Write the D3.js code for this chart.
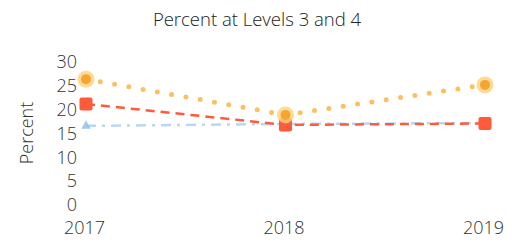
<!DOCTYPE html>
<html><head><meta charset="utf-8">
<script src="https://cdn.jsdelivr.net/npm/d3@7"></script>
<style>body{margin:0;background:#fff}svg{display:block}text{font-family:"Open Sans",sans-serif;font-weight:300;fill:#333}</style>
</head><body><svg id="c" width="520" height="245"></svg>
<script>
const years = [2017, 2018, 2019];
const yTicks = [0, 5, 10, 15, 20, 25, 30];
const orangeVals = [26.4, 18.9, 25.2];
const redVals = [21.2, 16.8, 17.1];
const blueVals = [16.6, 17.0, 17.2];

const svg = d3.select("#c");
const x = d3.scaleLinear().domain([2017, 2019]).range([86, 485]);
const y = d3.scaleLinear().domain([0, 30]).range([205, 62]);

svg.append("text").attr("x", 257).attr("y", 26).attr("text-anchor", "middle")
  .style("font-size", "18.5px").style("font-weight", 300).style("fill", "#222").text("Percent at Levels 3 and 4");

const yAxis = svg.append("g").attr("transform", "translate(80,0)")
  .call(d3.axisLeft(y).tickValues(yTicks).tickSize(0).tickPadding(3));
yAxis.select(".domain").remove();
yAxis.selectAll("text").style("font-size", "18px").style("fill", "#333").attr("font-family", null);

const xAxis = svg.append("g").attr("transform", "translate(-2,219)")
  .call(d3.axisBottom(x).tickValues(years).tickFormat(d3.format("d")).tickSize(0).tickPadding(2));
xAxis.select(".domain").remove();
xAxis.selectAll("text").style("font-size", "18px").style("fill", "#333").attr("font-family", null);

svg.append("text").attr("transform", "translate(33,133) rotate(-90)")
  .attr("text-anchor", "middle").style("font-size", "18px").text("Percent");

const line = d3.line().x((d, i) => x(years[i])).y(d => y(d));

// blue dash-dot
svg.append("path").datum(blueVals).attr("d", line).attr("fill", "none")
  .attr("stroke", "#a8cdee").attr("stroke-width", 2.5).attr("stroke-dasharray", "10 6 3 6").attr("opacity", 0.8);
// red dashed
svg.append("path").datum(redVals).attr("d", line).attr("fill", "none")
  .attr("stroke", "#ff5a3c").attr("stroke-width", 2.5).attr("stroke-dasharray", "9 6");
// orange dotted
svg.append("path").datum(orangeVals).attr("d", line).attr("fill", "none")
  .attr("stroke", "#f9b13a").attr("stroke-width", 5).attr("stroke-linecap", "round")
  .attr("stroke-dasharray", "0 14.5").attr("opacity", 0.8);

// blue markers
svg.selectAll(".bm").data(blueVals).enter().append("path")
  .attr("transform", (d, i) => `translate(${x(years[i])},${y(d)})`)
  .attr("d", d3.symbol(d3.symbolTriangle, 40)).attr("fill", "#8fbfe8").attr("opacity", 0.8);
// red markers
svg.selectAll(".rm").data(redVals).enter().append("rect")
  .attr("x", (d, i) => x(years[i]) - 6.5).attr("y", d => y(d) - 6.5)
  .attr("width", 13).attr("height", 13).attr("rx", 2).attr("fill", "#ff5a3c");
// orange markers
svg.selectAll(".om").data(orangeVals).enter().append("circle")
  .attr("cx", (d, i) => x(years[i])).attr("cy", d => y(d)).attr("r", 8.5)
  .attr("fill", "#fcd27a").attr("opacity", 0.8);
svg.selectAll(".om2").data(orangeVals).enter().append("circle")
  .attr("cx", (d, i) => x(years[i])).attr("cy", d => y(d)).attr("r", 5)
  .attr("fill", "#f7a531");
</script></body></html>
